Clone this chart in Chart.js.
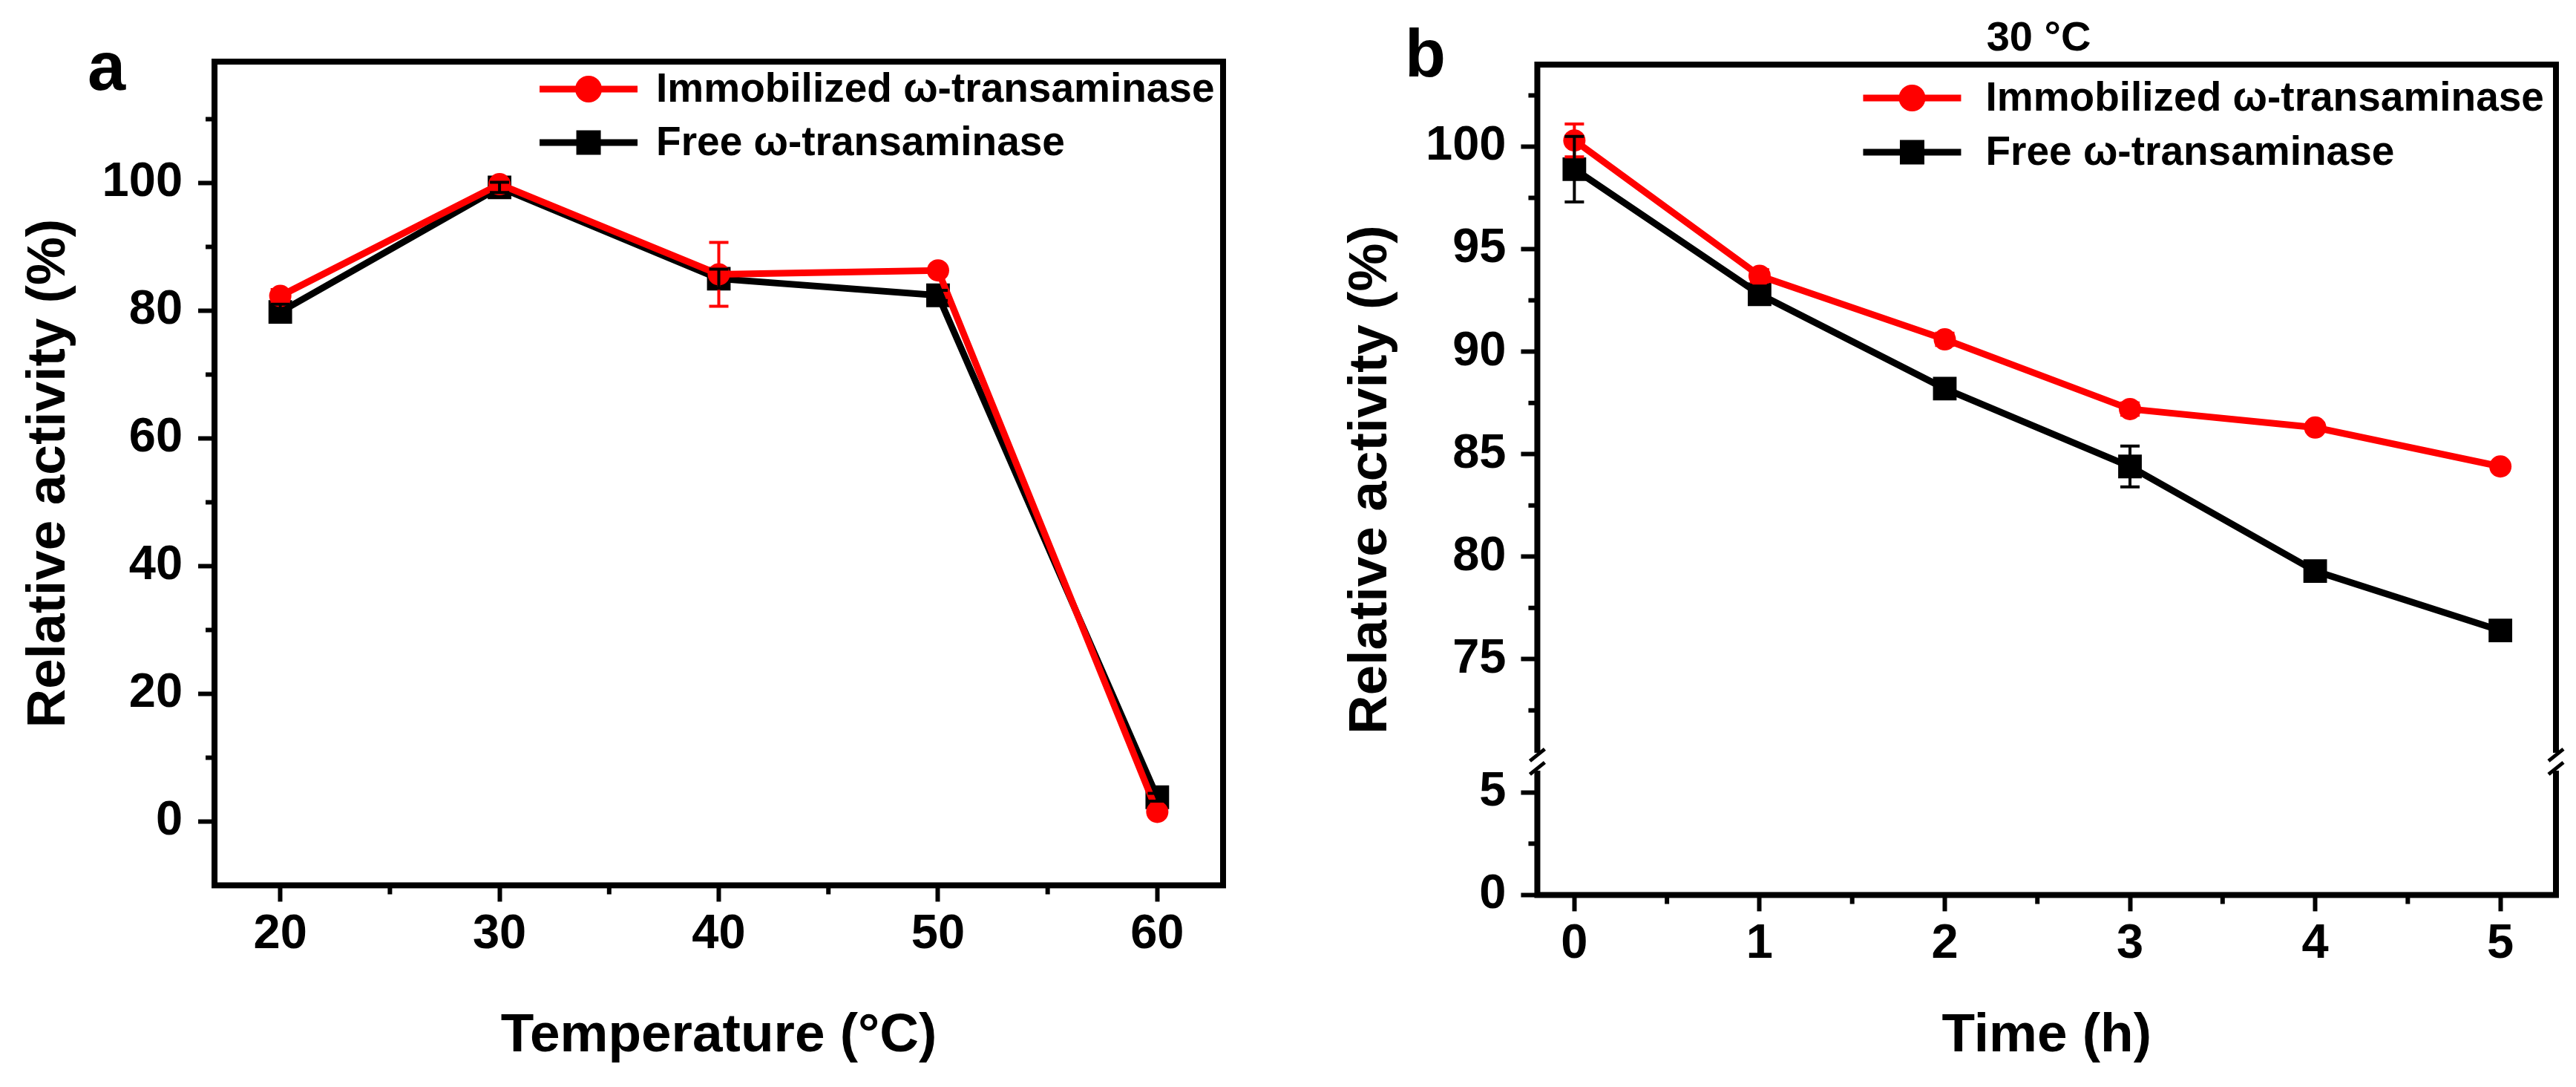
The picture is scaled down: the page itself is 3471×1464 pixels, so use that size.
<!DOCTYPE html>
<html>
<head>
<meta charset="utf-8">
<script src="https://cdn.jsdelivr.net/npm/chart.js@4.4.1/dist/chart.umd.min.js"></script>
<style>
  html, body { margin: 0; padding: 0; background: #fff; }
  body { width: 3471px; height: 1464px; position: relative; overflow: hidden;
         font-family: "Liberation Sans", Arial, Helvetica, sans-serif; }
  canvas { position: absolute; top: 0; }
  #chartA { left: 0; }
  #chartB { left: 1735px; }
  .tag { position: absolute; font-weight: bold; line-height: 1; color: #000; white-space: nowrap; }
</style>
</head>
<body>
<canvas id="chartA" width="1735" height="1464"></canvas>
<canvas id="chartB" width="1736" height="1464"></canvas>
<div class="tag" style="left:118px; top:43px; font-size:92px;">a</div>
<div class="tag" style="left:1893px; top:27px; font-size:90px;">b</div>
<div class="tag" style="left:2547px; width:400px; text-align:center; top:21px; font-size:56px;">30 °C</div>
<script>
// ------------------------------------------------------
// data
// ------------------------------------------------------
const seriesNames = ["Immobilized ω-transaminase", "Free ω-transaminase"];

// (a) temperature
const temperature = [20, 30, 40, 50, 60];
const tempImmob = [82.3, 99.8, 85.7, 86.3, 1.5];
const tempImmobErr = [1.0, 0.6, 5.0, 0.5, 0.5];
const tempFree = [79.8, 99.3, 85.0, 82.4, 3.8];
const tempFreeErr = [1.2, 0.8, 1.5, 0.8, 0.6];

// (b) time at 30 °C
const hours = [0, 1, 2, 3, 4, 5];
const timeImmob = [100.3, 93.7, 90.6, 87.2, 86.3, 84.4];
const timeImmobErr = [0.8, 0.3, 0.3, 0.3, 0.2, 0.2];
const timeFree = [98.9, 92.8, 88.2, 84.4, 79.3, 76.4];
const timeFreeErr = [1.6, 0.4, 0.3, 1.0, 0.3, 0.3];

// tick values
const tempTicks = [20, 30, 40, 50, 60];
const tempMinor = [25, 35, 45, 55];
const actTicksA = [0, 20, 40, 60, 80, 100];
const actMinorA = [10, 30, 50, 70, 90, 110];
const hourTicks = [0, 1, 2, 3, 4, 5];
const hourMinor = [0.5, 1.5, 2.5, 3.5, 4.5];
const upperTicks = [75, 80, 85, 90, 95, 100];
const upperMinor = [72.5, 77.5, 82.5, 87.5, 92.5, 97.5, 102.5];
const lowerTicks = [0, 5];
const lowerMinor = [2.5];

// ------------------------------------------------------
const FONT = '"Liberation Sans", Arial, Helvetica, sans-serif';
const RED = "#ff0000";
const BLACK = "#000000";
Chart.defaults.font.family = FONT;
Chart.defaults.color = "#000";

function pts(xs, ys) {
    return xs.map((x, i) => ({ x: x, y: ys[i] }));
}

function fixedTicks(values) {
    return (scale) => { scale.ticks = values.map(v => ({ value: v })); };
}

function tickFont() {
    return { size: 65, weight: "bold", family: FONT };
}

// error bars drawn through the scales
function errorBarPlugin(errs) {
    return {
        id: "errorBars",
        afterDatasetsDraw(chart) {
            const ctx = chart.ctx;
            chart.data.datasets.forEach((ds, di) => {
                const meta = chart.getDatasetMeta(di);
                const xs = chart.scales[meta.xAxisID];
                const ys = chart.scales[meta.yAxisID];
                ctx.save();
                ctx.strokeStyle = ds.borderColor;
                ctx.lineWidth = 4;
                ds.data.forEach((p, i) => {
                    const e = errs[di][i];
                    const x = xs.getPixelForValue(p.x);
                    const yTop = ys.getPixelForValue(p.y + e);
                    const yBot = ys.getPixelForValue(p.y - e);
                    ctx.beginPath();
                    ctx.moveTo(x, yTop); ctx.lineTo(x, yBot);
                    ctx.moveTo(x - 13, yTop); ctx.lineTo(x + 13, yTop);
                    ctx.moveTo(x - 13, yBot); ctx.lineTo(x + 13, yBot);
                    ctx.stroke();
                });
                ctx.restore();
            });
        }
    };
}

// box frame, minor ticks and (optional) axis break
function framePlugin(minor, breakScale) {
    return {
        id: "frame",
        afterDraw(chart) {
            const { ctx, chartArea: a } = chart;
            ctx.save();
            ctx.strokeStyle = "#000";
            ctx.lineWidth = 8;
            ctx.strokeRect(a.left, a.top, a.right - a.left, a.bottom - a.top);

            ctx.lineWidth = 6;
            ctx.beginPath();
            Object.keys(minor).forEach(id => {
                const s = chart.scales[id];
                minor[id].forEach(v => {
                    const p = s.getPixelForValue(v);
                    if (s.isHorizontal()) {
                        ctx.moveTo(p, a.bottom); ctx.lineTo(p, a.bottom + 12);
                    } else {
                        ctx.moveTo(a.left, p); ctx.lineTo(a.left - 12, p);
                    }
                });
            });
            ctx.stroke();

            if (breakScale) {
                const yb = chart.scales[breakScale].bottom;
                [a.left, a.right].forEach(x => {
                    ctx.fillStyle = "#fff";
                    ctx.fillRect(x - 8, yb - 12, 16, 24);
                    ctx.lineWidth = 5;
                    ctx.beginPath();
                    ctx.moveTo(x - 10, yb - 1); ctx.lineTo(x + 10, yb - 17);
                    ctx.moveTo(x - 10, yb + 17); ctx.lineTo(x + 10, yb + 1);
                    ctx.stroke();
                });
            }
            ctx.restore();
        }
    };
}

// legend inside the frame: line + marker + label
function legendPlugin(dx, dys, textDx) {
    return {
        id: "insetLegend",
        afterDraw(chart) {
            const { ctx, chartArea: a } = chart;
            chart.data.datasets.forEach((ds, i) => {
                const x0 = a.left + dx;
                const y = a.top + dys[i];
                ctx.save();
                ctx.strokeStyle = ds.borderColor;
                ctx.lineWidth = 9;
                ctx.beginPath();
                ctx.moveTo(x0, y); ctx.lineTo(x0 + 132, y);
                ctx.stroke();
                ctx.fillStyle = ds.borderColor;
                if (ds.pointStyle === "rect") {
                    ctx.fillRect(x0 + 66 - 16.5, y - 16.5, 33, 33);
                } else {
                    ctx.beginPath();
                    ctx.arc(x0 + 66, y, 18, 0, Math.PI * 2);
                    ctx.fill();
                }
                ctx.fillStyle = "#000";
                ctx.font = "bold 55px " + FONT;
                ctx.textBaseline = "middle";
                ctx.fillText(ds.label, x0 + textDx, y + 2);
                ctx.restore();
            });
        }
    };
}

// rotated y title centred on the whole (broken) axis
function yTitlePlugin(text, x) {
    return {
        id: "yTitle",
        afterDraw(chart) {
            const { ctx, chartArea: a } = chart;
            ctx.save();
            ctx.translate(x, (a.top + a.bottom) / 2);
            ctx.rotate(-Math.PI / 2);
            ctx.fillStyle = "#000";
            ctx.font = "bold 73px " + FONT;
            ctx.textAlign = "center";
            ctx.textBaseline = "middle";
            ctx.fillText(text, 0, 0);
            ctx.restore();
        }
    };
}

function makeSet(label, data, color, style) {
    return {
        label: label,
        data: data,
        borderColor: color,
        backgroundColor: color,
        pointBackgroundColor: color,
        pointBorderWidth: 0,
        pointStyle: style,
        pointRadius: style === "rect" ? 22.5 : 15,
        borderWidth: 9,
        tension: 0
    };
}

function xAxis(min, max, ticks, title, titlePad) {
    return {
        type: "linear",
        min: min,
        max: max,
        afterBuildTicks: fixedTicks(ticks),
        border: { display: false },
        grid: { drawOnChartArea: false, tickLength: 22, tickWidth: 6, tickColor: "#000" },
        ticks: { font: tickFont(), color: "#000", padding: 6, maxRotation: 0, autoSkip: false,
                 callback: v => String(v) },
        title: { display: true, text: title, color: "#000",
                 font: { size: 73, weight: "bold", family: FONT },
                 padding: { top: titlePad, bottom: 0 } }
    };
}

// ======================================================
// (a) Temperature
// ======================================================
new Chart(document.getElementById("chartA"), {
    type: "line",
    data: {
        datasets: [
            makeSet(seriesNames[0], pts(temperature, tempImmob), RED, "circle"),
            makeSet(seriesNames[1], pts(temperature, tempFree), BLACK, "rect")
        ]
    },
    options: {
        responsive: false,
        animation: false,
        devicePixelRatio: 1,
        events: [],
        layout: { padding: { left: 18, right: 87, top: 83, bottom: 24 } },
        plugins: { legend: { display: false }, tooltip: { enabled: false } },
        scales: {
            x: xAxis(17, 63, tempTicks, "Temperature (°C)", 48),
            y: {
                type: "linear",
                min: -10,
                max: 119,
                afterBuildTicks: fixedTicks(actTicksA),
                border: { display: false },
                grid: { drawOnChartArea: false, tickLength: 22, tickWidth: 6, tickColor: "#000" },
                ticks: { font: tickFont(), color: "#000", padding: 21, callback: v => String(v) },
                title: { display: true, text: "Relative activity (%)", color: "#000",
                         font: { size: 73, weight: "bold", family: FONT },
                         padding: { top: 5, bottom: 6 } }
            }
        }
    },
    plugins: [
        errorBarPlugin([tempImmobErr, tempFreeErr]),
        framePlugin({ x: tempMinor, y: actMinorA }, null),
        legendPlugin(438, [37, 109], 157)
    ]
});

// ======================================================
// (b) Time, broken y axis
// ======================================================
new Chart(document.getElementById("chartB"), {
    type: "line",
    data: {
        datasets: [
            makeSet(seriesNames[0], pts(hours, timeImmob), RED, "circle"),
            makeSet(seriesNames[1], pts(hours, timeFree), BLACK, "rect")
        ]
    },
    options: {
        responsive: false,
        animation: false,
        devicePixelRatio: 1,
        events: [],
        layout: { padding: { left: 166, right: 27, top: 87, bottom: 24 } },
        plugins: { legend: { display: false }, tooltip: { enabled: false } },
        scales: {
            x: xAxis(-0.2, 5.3, hourTicks, "Time (h)", 35),
            y: {
                type: "linear",
                position: "left",
                stack: "activity",
                stackWeight: 34,
                weight: 2,
                min: 70,
                max: 104,
                afterBuildTicks: fixedTicks(upperTicks),
                border: { display: false },
                grid: { drawOnChartArea: false, tickLength: 22, tickWidth: 6, tickColor: "#000" },
                ticks: { font: tickFont(), color: "#000", padding: 20, callback: v => String(v) }
            },
            y2: {
                type: "linear",
                position: "left",
                stack: "activity",
                stackWeight: 6.5,
                weight: 1,
                min: 0,
                max: 6.5,
                afterBuildTicks: fixedTicks(lowerTicks),
                border: { display: false },
                grid: { drawOnChartArea: false, tickLength: 22, tickWidth: 6, tickColor: "#000" },
                ticks: { font: tickFont(), color: "#000", padding: 20, callback: v => String(v) }
            }
        }
    },
    plugins: [
        errorBarPlugin([timeImmobErr, timeFreeErr]),
        framePlugin({ x: hourMinor, y: upperMinor, y2: lowerMinor }, "y"),
        legendPlugin(439, [45, 118], 165),
        yTitlePlugin("Relative activity (%)", 113)
    ]
});
</script>
</body>
</html>
